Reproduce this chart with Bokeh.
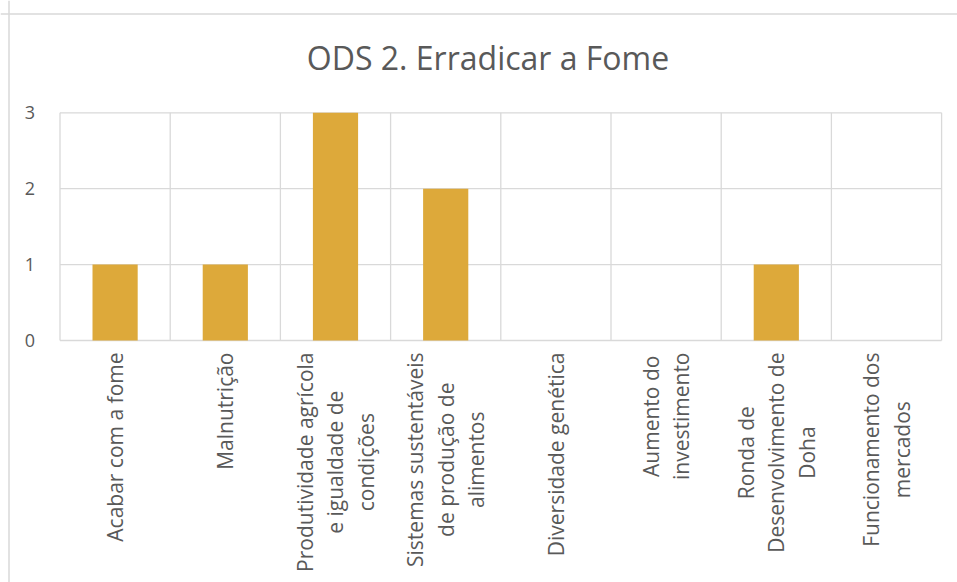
import math
from bokeh.plotting import figure
from bokeh.models import Range1d, LinearAxis, FixedTicker, Span, ColumnDataSource, Label
from bokeh.core.properties import value
from bokeh.embed import file_html
from bokeh.resources import INLINE

# ---- data ----
chart_title = "ODS 2. Erradicar a Fome"
categories = [
    "Acabar com a fome",
    "Malnutrição",
    "Produtividade agrícola\ne igualdade de\ncondições",
    "Sistemas sustentáveis\nde produção de\nalimentos",
    "Diversidade genética",
    "Aumento do\ninvestimento",
    "Ronda de\nDesenvolvimento de\nDoha",
    "Funcionamento dos\nmercados",
]
values = [1, 1, 3, 2, 0, 0, 1, 0]
y_ticks = [0, 1, 2, 3]

# ---- layout (pixels) ----
W, H = 957, 582
PX_X = 110.2          # pixels per category
PX_Y = 75.9           # pixels per unit
X0 = 59.5             # canvas x of category axis start
Y0 = 340.0            # canvas y of value 0

TEXT = "#595959"
GRID = "#d9d9d9"
BAR = "#DDA93A"
FONT = "Open Sans"

def dx(px):
    return (px - X0) / PX_X

def dy(py):
    return (Y0 - py) / PX_Y

n = len(categories)
p = figure(
    width=W, height=H,
    x_range=Range1d(dx(0), dx(W)), y_range=Range1d(dy(H), dy(0)),
    x_axis_type=None, y_axis_type=None,
    toolbar_location=None, output_backend="svg",
    min_border=0, outline_line_color=None,
    background_fill_color="white", border_fill_color="white",
)

# gridlines
p.segment(x0=0, x1=n, y0=y_ticks, y1=y_ticks, line_color=GRID, line_width=1.3)
p.segment(x0=list(range(n + 1)), x1=list(range(n + 1)), y0=0, y1=max(y_ticks),
          line_color=GRID, line_width=1.3)

# bars
src = ColumnDataSource(dict(x=[i + 0.5 for i in range(n)], top=values, label=categories))
p.vbar(x="x", top="top", bottom=0, width=0.41, source=src, fill_color=BAR, line_color=None)

# category labels
p.text(x="x", y=0, text="label", source=src, angle=math.pi / 2,
       anchor="center_right", text_align="center", text_baseline="middle",
       y_offset=12, text_font=value(FONT), text_font_size="21px",
       text_color=TEXT, text_line_height=1.08)

# y axis
yax = LinearAxis(fixed_location=0, ticker=FixedTicker(ticks=y_ticks))
yax.axis_line_color = None
yax.major_tick_line_color = None
yax.minor_tick_line_color = None
yax.major_label_standoff = 19
yax.major_label_text_font = FONT
yax.major_label_text_font_size = "18px"
yax.major_label_text_color = TEXT
p.add_layout(yax, "left")

# title
p.add_layout(Label(x=dx(487.5), y=dy(57), text=chart_title, text_align="center",
                   text_baseline="alphabetic", text_font=FONT, text_font_size="32px",
                   text_color=TEXT))

# chart border
p.add_layout(Span(location=dx(8.5), dimension="height", line_color=GRID, line_width=1.5))
p.add_layout(Span(location=dy(13.5), dimension="width", line_color=GRID, line_width=1.5))

open("out.html", "w").write(file_html(p, INLINE))
